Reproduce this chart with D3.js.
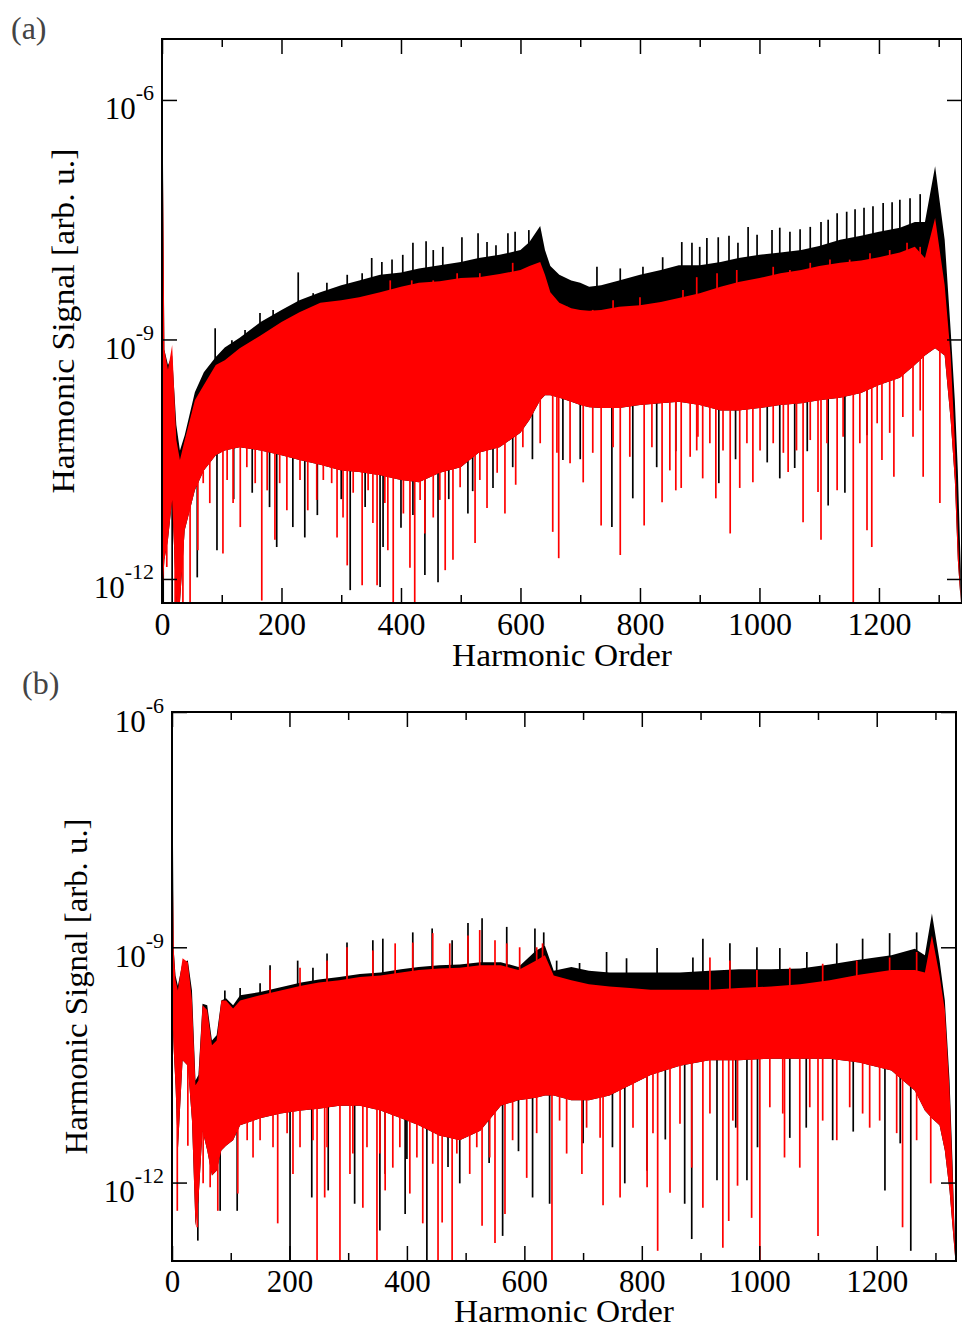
<!DOCTYPE html>
<html>
<head>
<meta charset="utf-8">
<script src="https://cdn.jsdelivr.net/npm/d3@7"></script>
<style>
  body { margin: 0; background: #fff; }
  text { font-family: "Liberation Serif", "Times New Roman", serif; }
</style>
</head>
<body>
<svg id="chart" width="962" height="1328"></svg>
<script>
// all signal values are log10 of the harmonic signal [arb. u.]
// envelopes of the dense spectrum

// ---- panel (a)
const ordA = [0, 4, 10, 17, 24, 30, 38, 55, 70, 90, 105, 130, 165, 200, 230, 265, 300, 330, 365, 400,
  430, 465, 500, 530, 565, 600, 615, 633, 641, 650, 665, 685, 700, 715, 735, 765, 800, 835, 865, 900,
  935, 965, 1000, 1035, 1070, 1100, 1135, 1170, 1200, 1235, 1260, 1277, 1294, 1310, 1320, 1327, 1332, 1337];
const blackTopA = [-5.1, -9.13, -9.32, -9.2, -10.07, -10.39, -10.2, -9.66, -9.41, -9.22, -9.1, -8.98, -8.78, -8.63, -8.51, -8.41, -8.32, -8.26, -8.19, -8.16,
  -8.11, -8.07, -8.03, -7.98, -7.94, -7.88, -7.78, -7.58, -7.88, -8.08, -8.19, -8.26, -8.29, -8.34, -8.32, -8.26, -8.19, -8.13, -8.07, -8.07,
  -8.03, -7.98, -7.94, -7.91, -7.88, -7.83, -7.75, -7.7, -7.65, -7.6, -7.53, -7.53, -6.83, -7.75, -8.88, -9.76, -10.64, -11.89];
const redTopA = [-5.44, -9.13, -9.38, -9.07, -10.26, -10.51, -10.26, -9.76, -9.57, -9.32, -9.26, -9.11, -8.95, -8.78, -8.66, -8.54, -8.51, -8.47, -8.41, -8.34,
  -8.29, -8.27, -8.23, -8.22, -8.18, -8.13, -8.08, -8.03, -8.19, -8.41, -8.54, -8.61, -8.63, -8.64, -8.63, -8.59, -8.57, -8.53, -8.48, -8.42,
  -8.34, -8.28, -8.23, -8.17, -8.13, -8.08, -8.04, -8.01, -7.97, -7.91, -7.84, -7.98, -7.48, -8.32, -9.2, -10.26, -11.39, -12.3];
const redLowA = [-12.27, -11.76, -11.51, -11.01, -12.3, -12.3, -11.39, -10.89, -10.64, -10.45, -10.39, -10.35, -10.39, -10.45, -10.51, -10.57, -10.64, -10.66, -10.7, -10.76,
  -10.79, -10.67, -10.6, -10.42, -10.35, -10.17, -10.01, -9.76, -9.7, -9.7, -9.73, -9.78, -9.82, -9.85, -9.86, -9.86, -9.82, -9.8, -9.78, -9.82,
  -9.89, -9.89, -9.86, -9.82, -9.8, -9.76, -9.73, -9.67, -9.57, -9.48, -9.32, -9.2, -9.11, -9.2, -10.01, -10.76, -11.76, -12.3];
// single spikes: [harmonic order, log10 signal]
const blackPeaksA = [[89, -8.86], [117, -9.01], [139, -8.88], [164, -8.67], [186, -8.63], [228, -8.16], [253, -8.42], [276, -8.29], [310, -8.19], [335, -8.17],
  [351, -7.98], [368, -8.03], [385, -8.0], [403, -7.94], [420, -7.79], [442, -7.77], [454, -7.88], [470, -7.84], [502, -7.72], [529, -7.67],
  [544, -7.78], [559, -7.82], [579, -7.67], [591, -7.65], [614, -7.63], [728, -8.09], [767, -8.11], [805, -8.09], [838, -7.97], [870, -7.78],
  [887, -7.79], [900, -7.84], [912, -7.73], [931, -7.72], [949, -7.7], [964, -7.79], [981, -7.59], [996, -7.69], [1021, -7.63], [1034, -7.6],
  [1051, -7.65], [1068, -7.62], [1085, -7.59], [1103, -7.53], [1115, -7.5], [1130, -7.42], [1146, -7.4], [1160, -7.37], [1175, -7.35], [1190, -7.33],
  [1207, -7.29], [1222, -7.28], [1235, -7.25], [1252, -7.23], [1269, -7.18]];
const redPeaksA = [[382, -8.26], [418, -8.26], [454, -8.26], [494, -8.17], [532, -8.17], [569, -8.22], [587, -8.04], [678, -8.59], [721, -8.63], [755, -8.51],
  [800, -8.47], [850, -8.59], [872, -8.38], [895, -8.22], [929, -8.17], [962, -8.13], [996, -8.26], [1023, -8.09], [1051, -8.13], [1085, -8.04],
  [1118, -8.0], [1151, -8.0], [1185, -7.92], [1218, -7.88], [1247, -7.79], [1269, -7.84]];
const blackDipsA = [[2, -12.4], [17, -12.4], [27, -12.4], [59, -11.98], [92, -11.64], [120, -11.0], [151, -10.92], [180, -11.1], [192, -11.6], [219, -11.35],
  [239, -11.48], [260, -11.2], [300, -11.0], [315, -12.14], [340, -11.1], [365, -12.1], [370, -11.6], [400, -11.36], [420, -11.2], [440, -11.95],
  [462, -12.04], [480, -11.0], [512, -11.18], [520, -10.9], [554, -10.86], [587, -10.6], [620, -10.5], [671, -10.51], [700, -10.5], [753, -11.35],
  [788, -10.99], [828, -10.6], [860, -10.4], [932, -10.8], [960, -10.5], [1013, -10.54], [1034, -10.74], [1059, -10.61], [1080, -10.4], [1115, -11.08],
  [1143, -10.92], [1180, -10.2]];
const redDipsA = [[8, -11.85], [22, -12.4], [35, -12.4], [47, -12.4], [60, -11.64], [69, -10.8], [80, -11.05], [102, -11.68], [109, -10.76], [119, -11.05],
  [131, -11.35], [142, -10.6], [156, -10.8], [167, -12.27], [176, -10.89], [189, -11.51], [197, -10.8], [209, -11.14], [231, -10.76], [244, -11.14],
  [259, -11.01], [270, -10.76], [284, -10.8], [293, -11.48], [303, -11.23], [310, -11.83], [320, -10.92], [335, -12.08], [345, -10.89], [353, -11.3],
  [360, -12.08], [373, -11.05], [378, -11.64], [387, -12.4], [404, -11.18], [415, -11.86], [423, -12.4], [432, -11.01], [440, -11.43], [454, -11.23],
  [465, -11.01], [474, -11.89], [487, -11.76], [499, -10.85], [524, -11.55], [532, -10.76], [544, -11.11], [561, -10.67], [574, -11.18], [592, -10.82],
  [604, -10.35], [633, -10.3], [654, -11.41], [661, -10.42], [664, -11.74], [683, -10.55], [705, -10.79], [721, -10.42], [735, -11.33], [755, -10.35],
  [767, -11.7], [783, -10.47], [807, -11.33], [820, -10.35], [837, -11.04], [850, -10.64], [860, -10.89], [869, -10.86], [884, -10.47], [895, -10.39],
  [897, -10.22], [905, -10.74], [917, -10.3], [927, -10.99], [939, -10.39], [951, -11.43], [967, -10.86], [979, -10.3], [989, -10.79], [1001, -10.39],
  [1023, -10.3], [1040, -10.42], [1048, -10.66], [1062, -10.39], [1073, -11.29], [1085, -10.26], [1098, -10.91], [1103, -11.51], [1113, -10.3], [1130, -10.89],
  [1140, -10.22], [1157, -12.4], [1168, -10.3], [1180, -11.39], [1188, -11.6], [1197, -10.05], [1205, -10.51], [1218, -10.17], [1225, -10.72], [1240, -9.97],
  [1257, -10.22], [1269, -9.89], [1274, -10.72], [1302, -11.05]];

// ---- panel (b)
const ordB = [0, 3, 6, 10, 18, 27, 34, 40, 45, 52, 60, 68, 76, 84, 92, 104, 116, 150, 185, 220,
  250, 285, 320, 355, 390, 420, 455, 490, 525, 560, 590, 620, 635, 650, 680, 710, 745, 780, 815, 865,
  915, 965, 1020, 1070, 1120, 1170, 1225, 1265, 1282, 1294, 1307, 1316, 1324, 1329, 1334];
const blackTopB = [-5.9, -9.04, -9.36, -9.49, -9.19, -9.17, -9.55, -10.7, -10.63, -9.72, -9.74, -10.19, -10.12, -9.68, -9.65, -9.74, -9.61, -9.57, -9.51, -9.45,
  -9.41, -9.38, -9.34, -9.32, -9.28, -9.25, -9.23, -9.22, -9.19, -9.19, -9.25, -9.04, -8.98, -9.3, -9.25, -9.3, -9.32, -9.32, -9.32, -9.32,
  -9.3, -9.28, -9.28, -9.27, -9.22, -9.16, -9.1, -9.02, -9.1, -8.57, -9.17, -9.68, -10.7, -11.72, -12.97];
const redTopB = [-7.21, -9.04, -9.42, -9.55, -9.14, -9.19, -9.68, -10.76, -10.7, -9.74, -9.8, -10.25, -10.19, -9.68, -9.68, -9.78, -9.68, -9.61, -9.55, -9.49,
  -9.45, -9.42, -9.38, -9.36, -9.32, -9.29, -9.27, -9.26, -9.23, -9.23, -9.29, -9.17, -9.1, -9.36, -9.42, -9.47, -9.5, -9.52, -9.54, -9.54,
  -9.54, -9.52, -9.5, -9.47, -9.42, -9.35, -9.29, -9.29, -9.32, -8.85, -9.36, -9.8, -10.83, -11.85, -13.0];
const redLowB = [-9.68, -10.32, -10.76, -11.59, -10.44, -10.51, -11.21, -12.55, -12.23, -11.34, -11.59, -11.91, -11.85, -11.59, -11.53, -11.46, -11.27, -11.18, -11.12, -11.08,
  -11.06, -11.02, -11.02, -11.08, -11.18, -11.27, -11.4, -11.46, -11.34, -11.02, -10.95, -10.92, -10.89, -10.89, -10.95, -10.95, -10.89, -10.76, -10.63, -10.51,
  -10.44, -10.44, -10.42, -10.42, -10.42, -10.47, -10.57, -10.83, -11.08, -11.18, -11.27, -11.59, -12.1, -12.55, -13.0];
const blackPeaksB = [[90, -9.55], [116, -9.52], [150, -9.46], [167, -9.23], [214, -9.17], [240, -9.26], [264, -9.08], [298, -8.94], [342, -8.91], [359, -8.89],
  [410, -8.81], [443, -8.76], [477, -8.91], [504, -8.69], [528, -8.63], [570, -8.74], [618, -8.76], [633, -8.81], [655, -9.17], [694, -9.2],
  [740, -9.06], [774, -9.14], [826, -9.01], [887, -9.13], [904, -8.89], [950, -8.95], [996, -9.0], [1035, -9.01], [1081, -9.06], [1132, -8.95],
  [1176, -8.89], [1222, -8.82], [1268, -8.81]];
const redPeaksB = [[167, -9.29], [218, -9.26], [264, -9.17], [298, -9.0], [342, -9.04], [380, -8.95], [410, -8.94], [444, -8.82], [473, -8.95], [504, -8.85],
  [524, -8.78], [550, -8.91], [570, -8.95], [592, -9.0], [621, -9.0], [631, -8.95], [916, -9.13], [950, -9.17], [996, -9.29], [1052, -9.26],
  [1108, -9.21], [1166, -9.17], [1222, -9.13], [1268, -9.06]];
const blackDipsB = [[44, -12.74], [82, -12.36], [111, -12.36], [201, -13.1], [238, -12.19], [266, -12.1], [311, -12.27], [354, -12.61], [363, -11.89], [397, -12.4],
  [400, -11.7], [434, -13.1], [470, -11.8], [490, -12.01], [540, -11.75], [563, -12.68], [590, -11.6], [614, -12.19], [643, -12.27], [700, -11.5],
  [750, -11.55], [771, -12.01], [809, -11.85], [840, -11.45], [873, -12.27], [885, -12.72], [928, -11.97], [960, -11.3], [979, -11.97], [997, -11.55],
  [1052, -11.43], [1080, -11.3], [1125, -11.46], [1160, -11.35], [1214, -12.1], [1240, -11.5], [1258, -12.87]];
const redDipsB = [[9, -12.36], [27, -11.53], [43, -12.57], [53, -12.01], [65, -12.06], [78, -12.36], [112, -12.14], [128, -11.46], [138, -11.68], [150, -11.46],
  [172, -11.55], [180, -12.52], [196, -11.37], [206, -11.89], [218, -11.55], [240, -11.46], [247, -13.1], [260, -12.19], [264, -11.55], [286, -13.1],
  [303, -11.89], [308, -11.63], [325, -12.32], [332, -11.55], [349, -13.1], [354, -11.63], [363, -12.1], [376, -11.81], [388, -11.55], [405, -12.14],
  [417, -11.68], [427, -12.52], [444, -11.76], [453, -13.1], [460, -12.51], [477, -13.1], [485, -11.63], [507, -11.89], [519, -11.55], [528, -12.55],
  [541, -11.68], [550, -12.77], [567, -12.4], [580, -11.46], [604, -11.94], [621, -11.37], [647, -13.1], [660, -11.21], [672, -11.63], [698, -11.89],
  [706, -11.3], [729, -11.43], [734, -12.29], [763, -12.19], [785, -11.3], [809, -12.06], [819, -11.37], [827, -12.87], [848, -12.13], [865, -11.25],
  [885, -11.81], [904, -12.32], [916, -11.12], [938, -12.83], [948, -12.49], [955, -11.21], [963, -12.04], [987, -12.45], [1001, -13.1], [1018, -11.04],
  [1040, -11.12], [1043, -11.68], [1069, -11.81], [1086, -11.04], [1100, -12.68], [1108, -11.21], [1132, -11.46], [1154, -11.04], [1176, -11.12], [1188, -11.3],
  [1205, -11.21], [1234, -11.37], [1244, -12.57], [1268, -11.46], [1292, -12.01]];

// ticks
const xMajor = [0, 200, 400, 600, 800, 1000, 1200];
const xMinor = [100, 300, 500, 700, 900, 1100, 1300];
const yMajor = [1e-12, 1e-9, 1e-6];

const panels = [
  { id: "a", label: "(a)", labelPos: [11, 39], left: 162, top: 39, width: 800, height: 564,
    xMax: 1339, yDomain: [5e-13, 5.8e-6], tickFont: 32, xTitleY: 665, yTitleX: 74,
    ord: ordA, blackTop: blackTopA, redTop: redTopA, redLow: redLowA,
    blackPeaks: blackPeaksA, redPeaks: redPeaksA, blackDips: blackDipsA, redDips: redDipsA },
  { id: "b", label: "(b)", labelPos: [22, 694], left: 172, top: 712, width: 784, height: 549,
    xMax: 1335, yDomain: [1e-13, 1e-6], tickFont: 31, xTitleY: 1321, yTitleX: 87,
    ord: ordB, blackTop: blackTopB, redTop: redTopB, redLow: redLowB,
    blackPeaks: blackPeaksB, redPeaks: redPeaksB, blackDips: blackDipsB, redDips: redDipsB }
];

const svg = d3.select("#chart");

function spikes(layer, data, cls, x, y, anchor, color) {
  layer.selectAll("line." + cls).data(data).join("line").attr("class", cls)
    .attr("x1", d => x(d[0])).attr("x2", d => x(d[0]))
    .attr("y1", d => y(10 ** d[1])).attr("y2", d => y(10 ** anchor(d[0])))
    .attr("stroke", color).attr("stroke-width", 1.7);
}

function drawPanel(p) {
  const x = d3.scaleLinear().domain([0, p.xMax]).range([p.left, p.left + p.width]);
  const y = d3.scaleLog().domain(p.yDomain).range([p.top + p.height, p.top]);
  const bottom = p.top + p.height, right = p.left + p.width;

  // piecewise scales along the envelopes, used to anchor spikes inside the band
  const blackTopOf = d3.scaleLinear().domain(p.ord).range(p.blackTop).clamp(true);
  const redTopOf = d3.scaleLinear().domain(p.ord).range(p.redTop).clamp(true);
  const redLowOf = d3.scaleLinear().domain(p.ord).range(p.redLow).clamp(true);

  const rows = p.ord.map((h, i) => ({
    h: h, bt: 10 ** p.blackTop[i], rt: 10 ** p.redTop[i], rl: 10 ** p.redLow[i]
  }));

  svg.append("clipPath").attr("id", "clip-" + p.id)
    .append("rect").attr("x", p.left).attr("y", p.top).attr("width", p.width).attr("height", p.height);

  const plot = svg.append("g").attr("clip-path", `url(#clip-${p.id})`);
  const band = t => d3.area().x(d => x(d.h)).y0(d => y(d.rl)).y1(d => y(d[t]));

  // black spectrum (mostly hidden under the red one)
  plot.append("path").datum(rows).attr("d", band("bt")).attr("fill", "#000");
  spikes(plot, p.blackDips, "bdip", x, y, h => redLowOf(h) + 0.3, "#000");
  spikes(plot, p.blackPeaks, "bpk", x, y, h => blackTopOf(h) - 0.2, "#000");

  // red spectrum
  plot.append("path").datum(rows).attr("d", band("rt")).attr("fill", "#ff0000");
  spikes(plot, p.redDips, "rdip", x, y, h => redLowOf(h) + 0.3, "#ff0000");
  spikes(plot, p.redPeaks, "rpk", x, y, h => redTopOf(h) - 0.2, "#ff0000");

  // axes, ticks pointing inward
  const styleAxis = g => {
    g.select(".domain").remove();
    g.selectAll(".tick line").attr("stroke", "#000").attr("stroke-width", 1.5);
    g.attr("font-family", null).attr("font-size", null);
  };

  svg.append("g").attr("transform", `translate(0,${bottom})`)
    .call(d3.axisBottom(x).tickValues(xMajor).tickSize(-15).tickSizeOuter(0).tickPadding(9).tickFormat(d3.format("d")))
    .call(styleAxis)
    .selectAll("text").attr("font-size", p.tickFont).attr("fill", "#000");
  svg.append("g").attr("transform", `translate(0,${bottom})`)
    .call(d3.axisBottom(x).tickValues(xMinor).tickSize(-8).tickSizeOuter(0).tickFormat(""))
    .call(styleAxis);
  svg.append("g").attr("transform", `translate(0,${p.top})`)
    .call(d3.axisTop(x).tickValues(xMajor).tickSize(-15).tickSizeOuter(0).tickFormat(""))
    .call(styleAxis);
  svg.append("g").attr("transform", `translate(0,${p.top})`)
    .call(d3.axisTop(x).tickValues(xMinor).tickSize(-8).tickSizeOuter(0).tickFormat(""))
    .call(styleAxis);
  svg.append("g").attr("transform", `translate(${right},0)`)
    .call(d3.axisRight(y).tickValues(yMajor).tickSize(-15).tickSizeOuter(0).tickFormat(""))
    .call(styleAxis);

  const yAxis = svg.append("g").attr("transform", `translate(${p.left},0)`)
    .call(d3.axisLeft(y).tickValues(yMajor).tickSize(-15).tickSizeOuter(0).tickPadding(8).tickFormat(""))
    .call(styleAxis);
  yAxis.selectAll(".tick text")
    .attr("dy", 19).attr("font-size", 31).attr("fill", "#000")
    .each(function (d) {
      const t = d3.select(this);
      t.append("tspan").text("10");
      t.append("tspan").attr("dy", -19).attr("font-size", 22).text(String(Math.round(Math.log10(d))));
    });

  // frame
  svg.append("rect").attr("x", p.left).attr("y", p.top).attr("width", p.width).attr("height", p.height)
    .attr("fill", "none").attr("stroke", "#000").attr("stroke-width", 2);

  // titles
  svg.append("text").attr("x", (p.left + right) / 2).attr("y", p.xTitleY + 1)
    .attr("text-anchor", "middle").attr("font-size", 31)
    .attr("textLength", 220).attr("lengthAdjust", "spacingAndGlyphs")
    .text("Harmonic Order");
  svg.append("text")
    .attr("transform", `translate(${p.yTitleX},${(p.top + bottom) / 2}) rotate(-90)`)
    .attr("text-anchor", "middle").attr("font-size", 32)
    .attr("textLength", p.id === "a" ? 345 : 336).attr("lengthAdjust", "spacingAndGlyphs")
    .text("Harmonic Signal [arb. u.]");
  svg.append("text").attr("x", p.labelPos[0]).attr("y", p.labelPos[1])
    .attr("font-size", 32).attr("fill", "#444").text(p.label);
}

panels.forEach(drawPanel);
</script>
</body>
</html>
